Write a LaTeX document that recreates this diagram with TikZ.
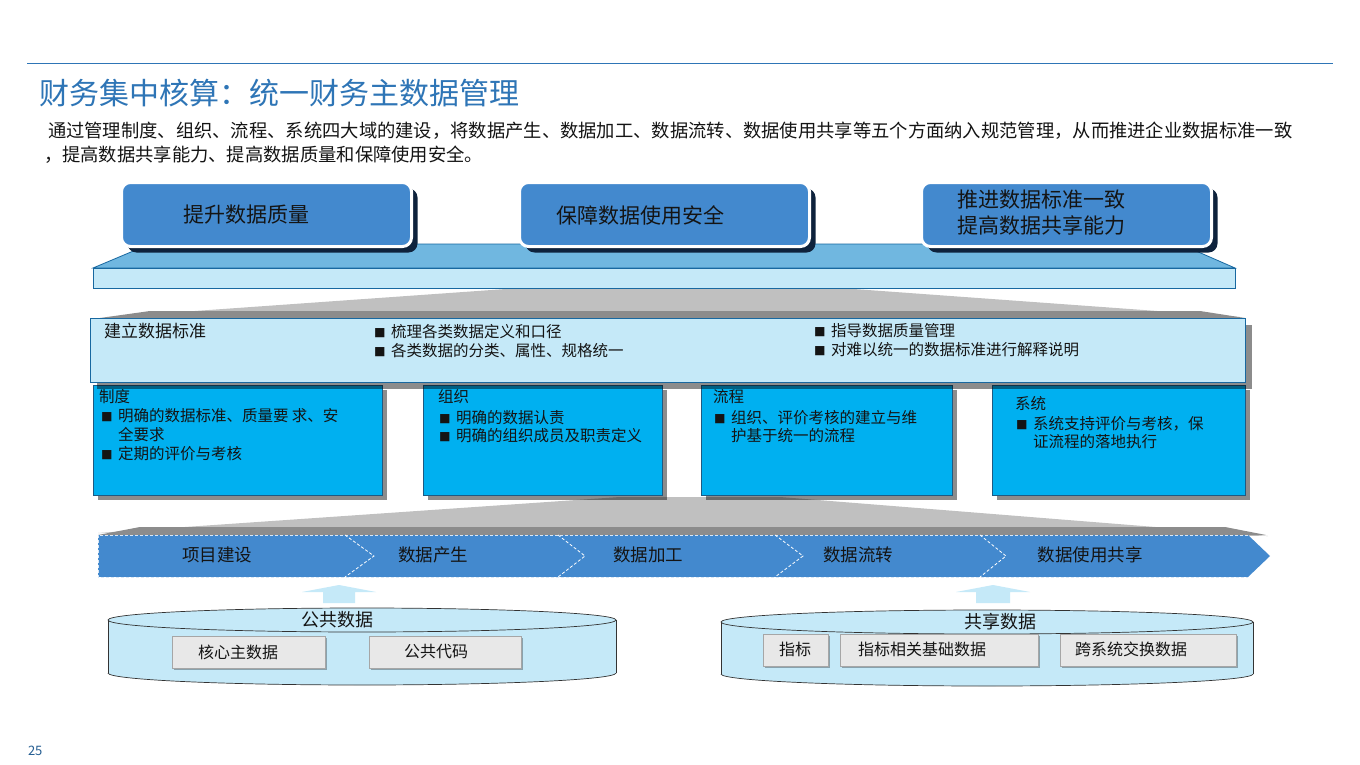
\documentclass[tikz,border=0pt]{standalone}
\usepackage{fontspec}
\setmainfont{Noto Sans CJK SC}
\usetikzlibrary{shadows}
\definecolor{titleblue}{RGB}{46,117,182}
\definecolor{boxblue}{RGB}{67,137,206}
\definecolor{navy}{RGB}{14,34,60}
\definecolor{platformtop}{RGB}{112,183,224}
\definecolor{lightcyan}{RGB}{197,233,248}
\definecolor{borderblue}{RGB}{24,104,160}
\definecolor{cyanbox}{RGB}{0,176,240}
\definecolor{colborder}{RGB}{30,90,130}
\definecolor{wedgelight}{RGB}{192,192,192}
\definecolor{wedgedark}{RGB}{140,140,140}
\definecolor{boxgray}{RGB}{232,232,232}
\definecolor{txt}{RGB}{20,20,20}
\newcommand\fsz[2]{\fontsize{#1}{#2}\selectfont}
\newcommand\bul{{\fontsize{11.5pt}{11.5pt}\selectfont ■}\hspace{5.5pt}}
\tikzset{
  txtnode/.style={inner sep=0pt, outer sep=0pt, text=txt, anchor=west},
  topbox/.style={rounded corners=9pt, fill=boxblue, draw=white, line width=3pt,
    drop shadow={shadow xshift=6pt, shadow yshift=-6pt, fill=navy, opacity=1}},
  stdbox/.style={fill=lightcyan, draw=borderblue, line width=1pt,
    drop shadow={shadow xshift=6pt, shadow yshift=-6pt, fill=black, opacity=0.45}},
  colbox/.style={fill=cyanbox, draw=colborder, line width=0.8pt,
    drop shadow={shadow xshift=5pt, shadow yshift=-5pt, fill=black, opacity=0.45}},
  dbox/.style={fill=boxgray, draw=black!35, line width=0.6pt,
    drop shadow={shadow xshift=2pt, shadow yshift=-2pt, fill=black, opacity=0.3}},
  cyl/.style={fill=lightcyan, draw=black!80, line width=0.7pt},
  uparrow/.style={fill=lightcyan, draw=none},
  sep/.style={draw=white, dashed, line width=0.8pt, dash pattern=on 3pt off 2pt},
}
\begin{document}
\begin{tikzpicture}[x=1pt,y=-1pt]
\useasboundingbox (0,0) rectangle (1360,765);
\fill[white] (0,0) rectangle (1360,765);

% header
\coordinate (hl1) at (27,64);
\coordinate (hl2) at (1333,64);
\draw[titleblue, line width=1pt] (hl1) -- (hl2);
\node[txtnode, text=titleblue, font=\fsz{30}{35}] (title) at (39,93) {财务集中核算：统一财务主数据管理};
\node[txtnode, font=\fsz{18.3}{22}] (sub1) at (48,131) {通过管理制度、组织、流程、系统四大域的建设，将数据产生、数据加工、数据流转、数据使用共享等五个方面纳入规范管理，从而推进企业数据标准一致};
\node[txtnode, font=\fsz{18.3}{22}] (sub2) at (44,155) {，提高数据共享能力、提高数据质量和保障使用安全。};

% wedge under platform
\fill[wedgelight] (520,288) -- (840,288) -- (1240,317) -- (110,317) -- cycle;
\fill[wedgedark] (100,318) -- (150,311) -- (1200,311) -- (1245,318) -- cycle;

% platform
\filldraw[fill=platformtop, draw=borderblue, line width=0.8pt] (93,268) -- (150,244) -- (1180,244) -- (1235,268) -- cycle;
\filldraw[fill=lightcyan, draw=borderblue, line width=0.8pt] (93,268) rectangle (1235,288);

% top goal boxes
\node[topbox, minimum width=290pt, minimum height=64pt, anchor=north west] (g1) at (120,181) {};
\node[topbox, minimum width=290pt, minimum height=64pt, anchor=north west] (g2) at (518,181) {};
\node[topbox, minimum width=290pt, minimum height=64pt, anchor=north west] (g3) at (920,181) {};
\node[txtnode, font=\fsz{21}{25}] (g1t) at (183,215) {提升数据质量};
\node[txtnode, font=\fsz{21}{25}] (g2t) at (556,215) {保障数据使用安全};
\node[txtnode, font=\fsz{21}{26}, align=left] (g3t) at (957,213) {推进数据标准一致\\提高数据共享能力};

% wedge under columns
\fill[wedgelight] (620,497) -- (780,497) -- (1268,536) -- (98,533) -- cycle;
\fill[wedgedark] (98,535) -- (140,527) -- (1225,527) -- (1266,535) -- cycle;

% four columns
\node[colbox, minimum width=289pt, minimum height=110pt, anchor=north west] (c1) at (93,385) {};
\node[colbox, minimum width=239pt, minimum height=110pt, anchor=north west] (c2) at (423,385) {};
\node[colbox, minimum width=251pt, minimum height=110pt, anchor=north west] (c3) at (701,385) {};
\node[colbox, minimum width=253pt, minimum height=110pt, anchor=north west] (c4) at (992,385) {};

% standard box
\node[stdbox, minimum width=1155pt, minimum height=64pt, anchor=north west] (std) at (90,318) {};
\node[txtnode, anchor=north west, font=\fsz{17}{20}] (stdt) at (104,323) {建立数据标准};
\node[txtnode, anchor=north west, font=\fsz{15.5}{19.5}, align=left] (stdb1) at (374,324) {\bul 梳理各类数据定义和口径\\\bul 各类数据的分类、属性、规格统一};
\node[txtnode, anchor=north west, font=\fsz{15.5}{19.5}, align=left] (stdb2) at (814,323) {\bul 指导数据质量管理\\\bul 对难以统一的数据标准进行解释说明};

% column texts
\node[txtnode, anchor=north west, font=\fsz{15.5}{19}] (c1h) at (99,389) {制度};
\node[txtnode, anchor=north west, font=\fsz{15.5}{19}, align=left] (c1b) at (101,408) {\bul 明确的数据标准、质量要 求、安\\\hspace*{17pt}全要求\\\bul 定期的评价与考核};
\node[txtnode, anchor=north west, font=\fsz{15.5}{19}] (c2h) at (438,389) {组织};
\node[txtnode, anchor=north west, font=\fsz{15.5}{18.5}, align=left] (c2b) at (439,410) {\bul 明确的数据认责\\\bul 明确的组织成员及职责定义};
\node[txtnode, anchor=north west, font=\fsz{15.5}{19}] (c3h) at (713,389) {流程};
\node[txtnode, anchor=north west, font=\fsz{15.5}{18.5}, align=left] (c3b) at (714,410) {\bul 组织、评价考核的建立与维\\\hspace*{17pt}护基于统一的流程};
\node[txtnode, anchor=north west, font=\fsz{15.5}{19}] (c4h) at (1015,396) {系统};
\node[txtnode, anchor=north west, font=\fsz{15.5}{18.5}, align=left] (c4b) at (1016,416) {\bul 系统支持评价与考核，保\\\hspace*{17pt}证流程的落地执行};

% process band
\filldraw[fill=boxblue, draw=white!80!boxblue, dashed, line width=0.7pt, dash pattern=on 3pt off 2pt]
  (1248,535) -- (98,535) -- (98,577) -- (1248,577);
\fill[boxblue] (1248,535) -- (1270,556) -- (1248,577) -- cycle;
\coordinate (s1a) at (345,535); \coordinate (s1b) at (374,556); \coordinate (s1c) at (345,577);
\coordinate (s2a) at (558,535); \coordinate (s2b) at (585,556); \coordinate (s2c) at (558,577);
\coordinate (s3a) at (775,535); \coordinate (s3b) at (803,556); \coordinate (s3c) at (775,577);
\coordinate (s4a) at (980,535); \coordinate (s4b) at (1006,556); \coordinate (s4c) at (980,577);
\draw[sep] (s1a) -- (s1b) -- (s1c);
\draw[sep] (s2a) -- (s2b) -- (s2c);
\draw[sep] (s3a) -- (s3b) -- (s3c);
\draw[sep] (s4a) -- (s4b) -- (s4c);
\node[txtnode, anchor=center, font=\fsz{17.5}{21}] (p1) at (217,555) {项目建设};
\node[txtnode, anchor=center, font=\fsz{17.5}{21}] (p2) at (433,555) {数据产生};
\node[txtnode, anchor=center, font=\fsz{17.5}{21}] (p3) at (648,555) {数据加工};
\node[txtnode, anchor=center, font=\fsz{17.5}{21}] (p4) at (858,555) {数据流转};
\node[txtnode, anchor=center, font=\fsz{17.5}{21}] (p5) at (1090,555) {数据使用共享};

% up arrows
\fill[uparrow] (302,592) -- (339,585) -- (376,592) -- (355,592) -- (355,603) -- (323,603) -- (323,592) -- cycle;
\fill[uparrow] (956,592) -- (993,585) -- (1030,592) -- (1010,592) -- (1010,603) -- (976,603) -- (976,592) -- cycle;

% cylinder 1
\fill[lightcyan] (108,620) rectangle (616,673);
\fill[lightcyan] (362,673) ellipse [x radius=254, y radius=12];
\begin{scope}
  \clip (100,673) rectangle (630,695);
  \draw[black!80, line width=0.7pt] (362,673) ellipse [x radius=254, y radius=12];
\end{scope}
\draw[black!80, line width=0.7pt] (108,620) -- (108,673);
\draw[black!80, line width=0.7pt] (616,620) -- (616,673);
\filldraw[cyl] (362,620) ellipse [x radius=254, y radius=12];
\node[txtnode, anchor=center, font=\fsz{18}{22}] (cy1t) at (337,620) {公共数据};
\node[dbox, minimum width=153pt, minimum height=32pt, anchor=north west] (b1) at (172,636) {};
\node[dbox, minimum width=152pt, minimum height=32pt, anchor=north west] (b2) at (369,636) {};
\node[txtnode, anchor=center, font=\fsz{16}{19}] (b1t) at (238,652) {核心主数据};
\node[txtnode, anchor=center, font=\fsz{16}{19}] (b2t) at (436,652) {公共代码};

% cylinder 2
\fill[lightcyan] (721,622) rectangle (1253,674);
\fill[lightcyan] (987,674) ellipse [x radius=266, y radius=12];
\begin{scope}
  \clip (715,674) rectangle (1260,695);
  \draw[black!80, line width=0.7pt] (987,674) ellipse [x radius=266, y radius=12];
\end{scope}
\draw[black!80, line width=0.7pt] (721,622) -- (721,674);
\draw[black!80, line width=0.7pt] (1253,622) -- (1253,674);
\filldraw[cyl] (987,622) ellipse [x radius=266, y radius=12];
\node[txtnode, anchor=center, font=\fsz{18}{22}] (cy2t) at (1000,622) {共享数据};
\node[dbox, minimum width=65pt, minimum height=32pt, anchor=north west] (b3) at (763,634) {};
\node[dbox, minimum width=198pt, minimum height=32pt, anchor=north west] (b4) at (840,634) {};
\node[dbox, minimum width=176pt, minimum height=32pt, anchor=north west] (b5) at (1060,634) {};
\node[txtnode, anchor=center, font=\fsz{16}{19}] (b3t) at (795,649) {指标};
\node[txtnode, anchor=center, font=\fsz{16}{19}] (b4t) at (922,649) {指标相关基础数据};
\node[txtnode, anchor=center, font=\fsz{16}{19}] (b5t) at (1131,649) {跨系统交换数据};

% page number
\node[txtnode, text=titleblue!80!black, font=\fsz{13}{15}] (pn) at (28,751) {25};
\end{tikzpicture}
\end{document}
